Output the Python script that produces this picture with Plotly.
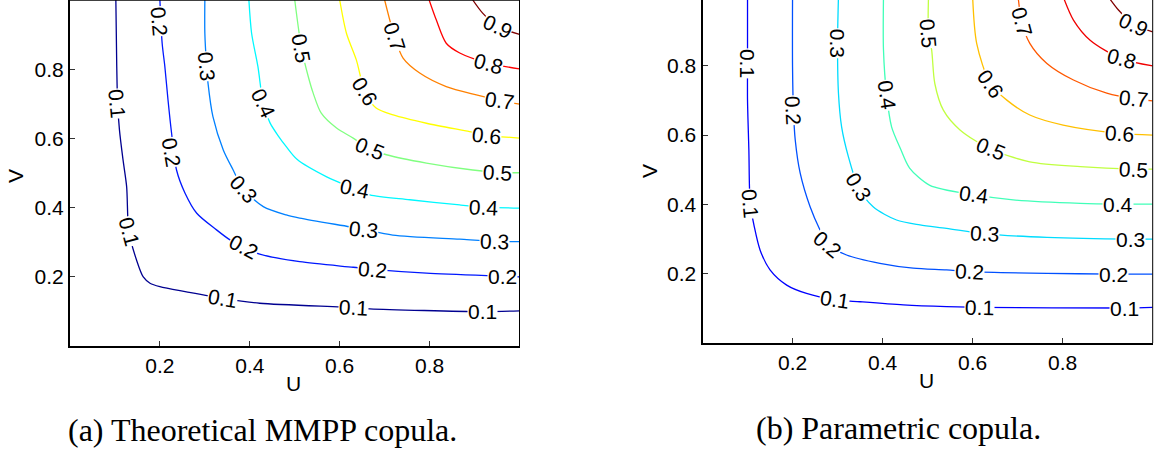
import plotly.graph_objects as go

# ---------------- data ----------------
levels = [0.1, 0.2, 0.3, 0.4, 0.5, 0.6, 0.7, 0.8, 0.9]

# (a) Theoretical MMPP copula: contour lines, u and v lists per level
a_u = {
    0.1: [0.102, 0.104, 0.106, 0.110, 0.118, 0.126, 0.131, 0.148, 0.163, 0.178, 0.200, 0.259, 0.340, 0.422, 0.630, 0.667, 0.918, 1.000],
    0.2: [0.200, 0.205, 0.211, 0.218, 0.226, 0.237, 0.256, 0.282, 0.326, 0.356, 0.385, 0.422, 0.511, 0.630, 0.674, 0.793, 0.963, 1.000],
    0.3: [0.300, 0.300, 0.304, 0.307, 0.318, 0.341, 0.363, 0.385, 0.430, 0.481, 0.511, 0.622, 0.652, 0.718, 0.867, 0.944, 1.000],
    0.4: [0.398, 0.404, 0.418, 0.430, 0.445, 0.462, 0.482, 0.505, 0.570, 0.633, 0.667, 0.756, 0.867, 0.922, 1.000],
    0.5: [0.500, 0.515, 0.530, 0.541, 0.559, 0.593, 0.630, 0.667, 0.704, 0.793, 0.896, 0.950, 1.000],
    0.6: [0.600, 0.615, 0.637, 0.656, 0.681, 0.719, 0.793, 0.889, 0.926, 1.000],
    0.7: [0.700, 0.722, 0.741, 0.778, 0.837, 0.904, 0.956, 1.000],
    0.8: [0.799, 0.815, 0.837, 0.867, 0.930, 1.000],
    0.9: [0.896, 0.918, 0.952, 1.000],
}
a_v = {
    0.1: [1.000, 0.808, 0.700, 0.625, 0.538, 0.461, 0.330, 0.249, 0.200, 0.182, 0.172, 0.157, 0.138, 0.124, 0.112, 0.108, 0.100, 0.102],
    0.2: [1.000, 0.875, 0.808, 0.712, 0.615, 0.509, 0.442, 0.384, 0.336, 0.307, 0.287, 0.266, 0.244, 0.228, 0.222, 0.211, 0.202, 0.200],
    0.3: [1.000, 0.904, 0.808, 0.760, 0.663, 0.567, 0.509, 0.455, 0.403, 0.379, 0.370, 0.345, 0.338, 0.321, 0.309, 0.303, 0.302],
    0.4: [1.000, 0.904, 0.808, 0.700, 0.645, 0.610, 0.575, 0.540, 0.490, 0.455, 0.437, 0.423, 0.408, 0.402, 0.399],
    0.5: [1.000, 0.861, 0.779, 0.731, 0.673, 0.630, 0.601, 0.570, 0.553, 0.529, 0.509, 0.503, 0.501],
    0.6: [1.000, 0.904, 0.827, 0.735, 0.688, 0.668, 0.644, 0.620, 0.610, 0.601],
    0.7: [1.000, 0.894, 0.832, 0.789, 0.750, 0.726, 0.710, 0.699],
    0.8: [1.000, 0.942, 0.875, 0.847, 0.818, 0.801],
    0.9: [1.000, 0.962, 0.923, 0.901],
}
a_colors = ["#000090", "#0018ff", "#0080ff", "#00f8ff", "#80ff80", "#ffff00", "#ff8000", "#ff0000", "#800000"]

# (a) inline labels: level, u, v, angle
a_lab_level = [0.1, 0.1, 0.1, 0.1, 0.1, 0.2, 0.2, 0.2, 0.2, 0.2, 0.3, 0.3, 0.3, 0.3, 0.4, 0.4, 0.4, 0.5, 0.5, 0.5, 0.6, 0.6, 0.7, 0.7, 0.8, 0.9]
a_lab_u = [0.104, 0.131, 0.340, 0.630, 0.918, 0.198, 0.226, 0.385, 0.674, 0.963, 0.304, 0.385, 0.652, 0.944, 0.430, 0.633, 0.922, 0.515, 0.667, 0.950, 0.656, 0.926, 0.722, 0.956, 0.930, 0.952]
a_lab_v = [0.700, 0.330, 0.138, 0.112, 0.100, 0.940, 0.560, 0.287, 0.222, 0.202, 0.808, 0.455, 0.338, 0.303, 0.700, 0.455, 0.402, 0.861, 0.570, 0.503, 0.735, 0.610, 0.894, 0.710, 0.818, 0.923]
a_lab_ang = [85, 75, 10, 3, 0, 85, 80, 28, 5, 0, 85, 48, 6, 2, 65, 12, 3, 80, 22, 3, 58, 6, 72, 8, 15, 25]

# (b) Parametric copula
b_u = {
    0.1: [0.100, 0.100, 0.100, 0.103, 0.106, 0.115, 0.128, 0.150, 0.187, 0.231, 0.294, 0.350, 0.446, 0.542, 0.616, 0.938, 1.000],
    0.2: [0.200, 0.200, 0.202, 0.206, 0.217, 0.239, 0.261, 0.278, 0.320, 0.394, 0.468, 0.542, 0.594, 0.765, 0.913, 1.000],
    0.3: [0.302, 0.300, 0.302, 0.309, 0.324, 0.346, 0.379, 0.431, 0.483, 0.542, 0.627, 0.765, 0.950, 1.000],
    0.4: [0.402, 0.402, 0.409, 0.420, 0.440, 0.460, 0.505, 0.602, 0.690, 0.839, 0.924, 1.000],
    0.5: [0.502, 0.502, 0.509, 0.516, 0.535, 0.572, 0.639, 0.727, 0.839, 0.957, 1.000],
    0.6: [0.600, 0.609, 0.639, 0.676, 0.727, 0.801, 0.927, 1.000],
    0.7: [0.701, 0.709, 0.727, 0.765, 0.824, 0.898, 0.957, 1.000],
    0.8: [0.801, 0.824, 0.861, 0.931, 1.000],
    0.9: [0.901, 0.924, 0.957, 1.000],
}
b_v = {
    0.1: [1.000, 0.807, 0.701, 0.557, 0.403, 0.336, 0.268, 0.211, 0.167, 0.143, 0.125, 0.119, 0.110, 0.105, 0.103, 0.101, 0.103],
    0.2: [1.000, 0.797, 0.672, 0.586, 0.490, 0.393, 0.326, 0.285, 0.254, 0.230, 0.216, 0.211, 0.206, 0.201, 0.199, 0.199],
    0.3: [1.000, 0.865, 0.721, 0.624, 0.538, 0.451, 0.393, 0.355, 0.341, 0.331, 0.315, 0.305, 0.300, 0.300],
    0.4: [1.000, 0.846, 0.716, 0.624, 0.560, 0.505, 0.455, 0.428, 0.413, 0.403, 0.401, 0.401],
    0.5: [1.000, 0.894, 0.846, 0.749, 0.672, 0.615, 0.560, 0.523, 0.509, 0.502, 0.502],
    0.6: [1.000, 0.865, 0.749, 0.701, 0.658, 0.629, 0.605, 0.600],
    0.7: [1.000, 0.927, 0.865, 0.807, 0.759, 0.721, 0.705, 0.699],
    0.8: [1.000, 0.932, 0.874, 0.820, 0.800],
    0.9: [1.000, 0.961, 0.920, 0.898],
}
b_colors = ["#0000ff", "#0050ff", "#00dcff", "#40ffb8", "#c0ff40", "#ffc000", "#ff5800", "#f00000", "#800000"]

b_lab_level = [0.1, 0.1, 0.1, 0.1, 0.1, 0.2, 0.2, 0.2, 0.2, 0.3, 0.3, 0.3, 0.3, 0.4, 0.4, 0.4, 0.5, 0.5, 0.5, 0.6, 0.6, 0.7, 0.7, 0.8, 0.9]
b_lab_u = [0.100, 0.106, 0.294, 0.616, 0.938, 0.202, 0.278, 0.594, 0.913, 0.300, 0.346, 0.627, 0.950, 0.409, 0.602, 0.924, 0.502, 0.639, 0.957, 0.639, 0.927, 0.709, 0.957, 0.931, 0.957]
b_lab_v = [0.807, 0.403, 0.125, 0.103, 0.101, 0.672, 0.285, 0.206, 0.199, 0.865, 0.451, 0.315, 0.300, 0.716, 0.428, 0.401, 0.894, 0.560, 0.502, 0.749, 0.605, 0.927, 0.705, 0.820, 0.920]
b_lab_ang = [90, 85, 8, 1, 0, 87, 40, 3, 0, 90, 58, 3, 0, 82, 8, 0, 85, 22, 3, 55, 4, 75, 6, 15, 25]

tick_vals = [0.2, 0.4, 0.6, 0.8]
tick_text = ["0.2", "0.4", "0.6", "0.8"]
captions = ["(a) Theoretical MMPP copula.", "(b) Parametric copula."]
axis_titles = ["U", "V"]

# ---------------- figure ----------------
W, H = 1164, 455
fig = go.Figure()

for lv, col in zip(levels, a_colors):
    fig.add_trace(go.Scatter(x=a_u[lv], y=a_v[lv], mode="lines", xaxis="x", yaxis="y",
                             line=dict(color=col, width=1.3, shape="spline", smoothing=0.8),
                             showlegend=False, hoverinfo="skip"))
for lv, col in zip(levels, b_colors):
    fig.add_trace(go.Scatter(x=b_u[lv], y=b_v[lv], mode="lines", xaxis="x2", yaxis="y2",
                             line=dict(color=col, width=1.3, shape="spline", smoothing=0.8),
                             showlegend=False, hoverinfo="skip"))

lab_font = dict(family="Liberation Sans, Arial, sans-serif", size=21, color="black")
annotations = []
for lv, u, v, ang in zip(a_lab_level, a_lab_u, a_lab_v, a_lab_ang):
    annotations.append(dict(x=u, y=v, xref="x", yref="y", text=f"{lv:.1f}", showarrow=False,
                            xanchor="center", yanchor="middle",
                            textangle=ang, font=lab_font, bgcolor="white", borderpad=0))
for lv, u, v, ang in zip(b_lab_level, b_lab_u, b_lab_v, b_lab_ang):
    annotations.append(dict(x=u, y=v, xref="x2", yref="y2", text=f"{lv:.1f}", showarrow=False,
                            xanchor="center", yanchor="middle",
                            textangle=ang, font=lab_font, bgcolor="white", borderpad=0))

# axis titles
ttl_font = dict(family="Liberation Sans, Arial, sans-serif", size=21, color="black")
def paper_text(x, y, text, font, angle=0):
    return dict(x=x / W, y=1 - y / H, xref="paper", yref="paper", text=text, showarrow=False,
                xanchor="center", yanchor="middle", font=font, textangle=angle)

cap_font = dict(family="Liberation Serif, Times New Roman, serif", size=32, color="black")
annotations += [
    paper_text(293, 383, axis_titles[0], ttl_font),
    paper_text(16, 176, axis_titles[1], ttl_font, -90),
    paper_text(927, 380, axis_titles[0], ttl_font),
    paper_text(649, 171, axis_titles[1], ttl_font, -90),
    paper_text(262, 430, captions[0], cap_font),
    paper_text(898, 428, captions[1], cap_font),
]

tick_font = dict(family="Liberation Sans, Arial, sans-serif", size=21, color="black")
common = dict(showgrid=False, zeroline=False, showline=True, linecolor="black", linewidth=2,
              ticks="inside", ticklen=5, tickwidth=1, tickcolor="#333333", automargin=False,
              tickvals=tick_vals, ticktext=tick_text, tickfont=tick_font, fixedrange=True)

fig.update_layout(
    template="none",
    width=W, height=H, margin=dict(l=0, r=0, t=0, b=0, pad=0),
    paper_bgcolor="white", plot_bgcolor="white", showlegend=False,
    xaxis=dict(domain=[70 / W, 519.5 / W], range=[0, 1], anchor="y", **common),
    yaxis=dict(domain=[1 - 346.2 / H, 1.0], range=[0, 1], anchor="x", **common),
    xaxis2=dict(domain=[702.5 / W, 1152.7 / W], range=[0, 1], anchor="y2", **common),
    yaxis2=dict(domain=[1 - 343 / H, 1.0], range=[0, 0.99], anchor="x2", **common),
    annotations=annotations,
    shapes=[
        dict(type="line", xref="x domain", yref="y domain", x0=0, x1=1, y0=1, y1=1, line=dict(color="black", width=1.5)),
        dict(type="line", xref="x domain", yref="y domain", x0=1, x1=1, y0=0, y1=1, line=dict(color="black", width=1)),
        dict(type="line", xref="x2 domain", yref="y2 domain", x0=1, x1=1, y0=0, y1=1, line=dict(color="black", width=1)),
    ],
)

fig.write_html("out.html", config={"displayModeBar": False},
               post_script="document.body.style.margin='0px';")
